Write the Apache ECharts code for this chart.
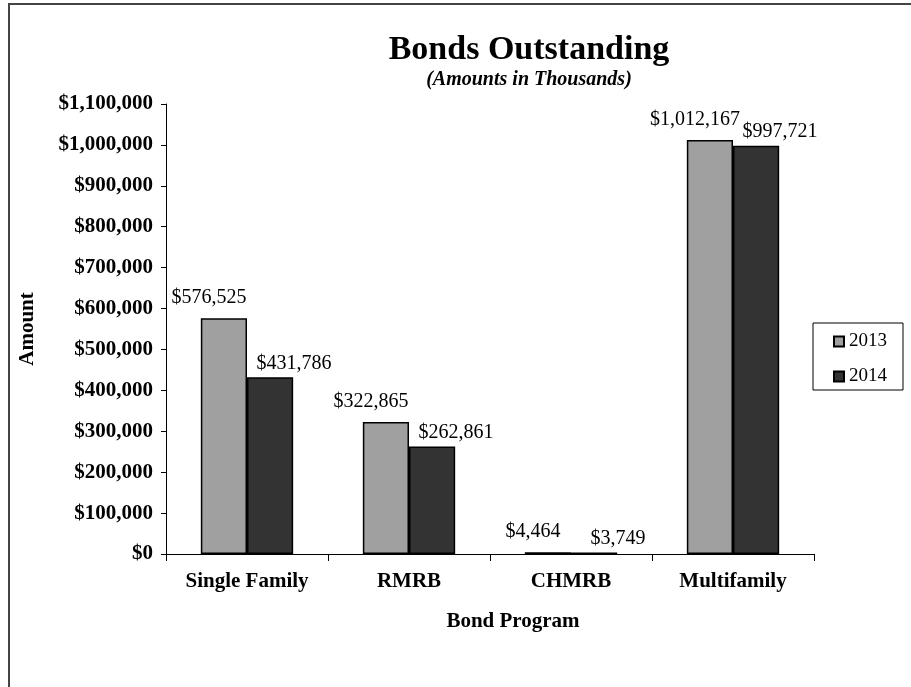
<!DOCTYPE html>
<html>
<head>
<meta charset="utf-8">
<script src="https://cdn.jsdelivr.net/npm/echarts@6/dist/echarts.min.js"></script>
<style>
html,body{margin:0;padding:0;background:#fff;}
#chart{width:911px;height:687px;}
</style>
</head>
<body>
<div id="chart"></div>
<script>
const categories = ['Single Family', 'RMRB', 'CHMRB', 'Multifamily'];
const series2013 = [576525, 322865, 4464, 1012167];
const series2014 = [431786, 262861, 3749, 997721];
const seriesNames = ['2013', '2014'];

const SERIF = "'Liberation Serif', 'Times New Roman', 'DejaVu Serif', serif";
const money = v => '$' + Number(v).toLocaleString('en-US');

const chart = echarts.init(document.getElementById('chart'));
chart.setOption({
  backgroundColor: '#fff',
  animation: false,
  graphic: [{
    type: 'rect',
    shape: { x: 9, y: 4, width: 920, height: 700 },
    style: { fill: 'none', stroke: '#444', lineWidth: 2 },
    z: -1
  }],
  title: [{
    text: 'Bonds Outstanding',
    left: 524, top: 28, textAlign: 'center',
    textStyle: { fontFamily: SERIF, fontWeight: 'bold', fontSize: 34, color: '#000' }
  }, {
    text: '(Amounts in Thousands)',
    left: 524, top: 65, textAlign: 'center',
    textStyle: { fontFamily: SERIF, fontWeight: 'bold', fontStyle: 'italic', fontSize: 20, color: '#000' }
  }],
  legend: {
    orient: 'vertical',
    left: 813, top: 323,
    padding: [9, 16, 4, 20],
    itemGap: 16,
    itemWidth: 10, itemHeight: 10,
    borderColor: '#000', borderWidth: 1,
    textStyle: { fontFamily: SERIF, fontSize: 19, color: '#000' },
    data: seriesNames.map(n => ({ name: n, icon: 'rect' }))
  },
  grid: { left: 166, right: 97, top: 104, bottom: 133 },
  xAxis: {
    type: 'category',
    data: categories,
    name: 'Bond Program',
    nameLocation: 'middle',
    nameGap: 57,
    nameTextStyle: { fontFamily: SERIF, fontWeight: 'bold', fontSize: 21, color: '#000', padding: [0, 0, 0, 46] },
    axisLine: { lineStyle: { color: '#000', width: 1 } },
    axisTick: { show: true, length: 7, lineStyle: { color: '#000' } },
    axisLabel: { margin: 17, fontFamily: SERIF, fontWeight: 'bold', fontSize: 21, color: '#000' }
  },
  yAxis: {
    type: 'value',
    min: 0, max: 1100000, interval: 100000,
    name: 'Amount',
    nameLocation: 'middle',
    nameGap: 128,
    nameRotate: 90,
    nameTextStyle: { fontFamily: SERIF, fontWeight: 'bold', fontSize: 21, color: '#000' },
    axisLine: { show: true, lineStyle: { color: '#000', width: 1 } },
    axisTick: { show: true, length: 5, lineStyle: { color: '#000' } },
    splitLine: { show: false },
    axisLabel: { margin: 13, fontFamily: SERIF, fontWeight: 'bold', fontSize: 21, color: '#000', formatter: money }
  },
  series: [{
    name: seriesNames[0],
    type: 'bar',
    data: series2013,
    barGap: '0%',
    barCategoryGap: '43%',
    itemStyle: { color: '#a0a0a0', borderColor: '#000', borderWidth: 1.5 },
    label: {
      show: true, position: 'top', distance: 5, offset: [-15, -5],
      fontFamily: SERIF, fontSize: 20, color: '#000',
      formatter: p => money(p.value)
    }
  }, {
    name: seriesNames[1],
    type: 'bar',
    data: series2014,
    barGap: '0%',
    barCategoryGap: '43%',
    itemStyle: { color: '#333333', borderColor: '#000', borderWidth: 1.5 },
    label: {
      show: true, position: 'top', distance: 5, offset: [24, 1],
      fontFamily: SERIF, fontSize: 20, color: '#000',
      formatter: p => money(p.value)
    }
  }]
});
</script>
</body>
</html>
